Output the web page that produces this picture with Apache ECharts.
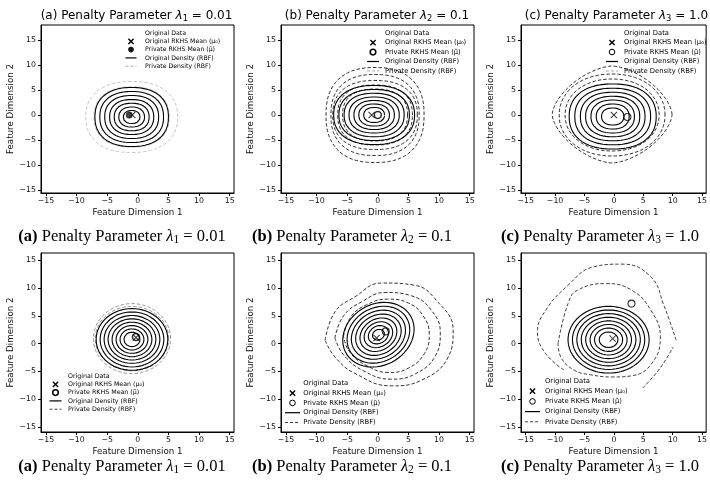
<!DOCTYPE html>
<html>
<head>
<meta charset="utf-8">
<title>RKHS mean privatisation: penalty parameter sweep</title>
<script src="https://cdn.jsdelivr.net/npm/echarts@6/dist/echarts.min.js"></script>
<style>
html, body { margin: 0; padding: 0; background: #fff; }
#chart { width: 710px; height: 481px; }
</style>
</head>
<body>
<div id="chart"></div>
<script>
// ---------- axes ----------
const xTicks = [-15, -10, -5, 0, 5, 10, 15];
const yTicks = [-15, -10, -5, 0, 5, 10, 15];
const xRange = [-15.8, 15.7];
const yRangeTop = [-15.6, 18];
const yRangeBottom = [-15.9, 16.3];

// ---------- panel text ----------
const panelLetters = ['a', 'b', 'c'];
const lambdaIndex = ['1', '2', '3'];
const lambdaValues = ['0.01', '0.1', '1.0'];
const legendLabels = ['Original Data', 'Original RKHS Mean (μ₀)', 'Private RKHS Mean (μ̃)',
                      'Original Density (RBF)', 'Private Density (RBF)'];

// ---------- kernel means ----------
const origMeanTop = [[-0.9, 0], [-1.0, 0], [0, 0]];
const privMeanTop = [[-1.4, 0], [0, 0], [2.3, -0.4]];
const origMeanBottom = [[-0.3, 1.1], [-0.2, 1.0], [-0.2, 0.9]];
const privMeanBottom = [[-0.3, 1.2], [1.3, 2.2], [3.0, 7.2]];

// ---------- density contour levels ----------
// each set: centre, superellipse exponent, tilt in degrees, [rx, ry] per level (outermost first)
const origTopA = { c: [-1.0, -0.4], n: 2.3, tilt: 0,
  r: [[6.0, 5.9], [5.2, 5.1], [4.4, 4.3], [3.6, 3.5], [2.85, 2.75], [2.1, 2.0], [1.35, 1.3]] };
const privTopA = { c: [-1.0, -0.4], n: 2.3, tilt: 0, r: [[7.5, 7.1], [6.15, 6.05]] };

const origTopB = { c: [-0.6, 0], n: 2.3, tilt: 0,
  r: [[6.6, 5.9], [5.75, 5.1], [4.9, 4.35], [4.1, 3.6], [3.3, 2.9], [2.5, 2.2], [1.7, 1.5]] };
const privTopB = { c: [-0.45, 0], n: 2.4, tilt: 0,
  r: [[8.0, 9.5], [7.2, 8.1], [6.9, 6.9], [6.1, 6.0], [5.3, 5.2]] };

const origTopC = { c: [-0.2, -0.3], n: 2.3, tilt: 0,
  r: [[7.4, 6.5], [6.45, 5.65], [5.5, 4.85], [4.6, 4.05], [3.7, 3.3], [2.8, 2.5], [1.9, 1.7]] };
const privTopCOuter = { c: [-0.3, 0.1], n: 1.6, tilt: 0, r: [[10.2, 9.7]] };
const privTopCInner = { c: [-0.3, 0.0], n: 2.1, tilt: 0, r: [[9.0, 8.2], [8.0, 7.2]] };

const origBottomA = { c: [-0.95, 0.75], n: 2.0, tilt: 0,
  r: [[5.85, 5.55], [5.2, 4.95], [4.55, 4.3], [3.9, 3.7], [3.25, 3.1], [2.6, 2.5], [1.95, 1.9], [1.3, 1.3]] };
const privBottomA = { c: [-0.95, 0.9], n: 2.0, tilt: 0, r: [[6.3, 6.3], [6.0, 5.8]] };

const origBottomB = { c: [0.1, 1.6], n: 2.0, tilt: 45,
  r: [[6.3, 5.3], [5.55, 4.65], [4.8, 4.0], [4.05, 3.35], [3.3, 2.7], [2.55, 2.1], [1.8, 1.5], [1.05, 0.9]] };
// irregular private-density contours (data coordinates)
const privBottomBPaths = [
  [[-8.6, 0.6], [-7.0, 5.7], [-3.75, 8.4], [0.6, 10.9], [6.0, 10.5], [9.3, 8.1], [12.3, 2.4], [11.5, -2.4], [7.1, -6.6], [2.2, -7.6], [-3.75, -5.35], [-7.0, -2.4], [-8.6, 0.6]],
  [[-7.0, 1.0], [-5.6, 5.0], [-2.5, 7.6], [1.2, 9.2], [5.5, 8.6], [8.6, 6.2], [10.2, 2.0], [9.4, -2.2], [6.2, -5.4], [2.2, -6.4], [-2.5, -4.8], [-5.6, -2.0], [-7.0, 1.0]],
  [[-5.6, 1.3], [-4.4, 4.8], [-1.8, 7.0], [1.6, 8.0], [5.0, 7.3], [7.4, 5.0], [8.4, 1.6], [7.6, -1.8], [5.0, -4.4], [1.8, -5.2], [-1.9, -3.9], [-4.6, -1.5], [-5.6, 1.3]]
];

const origBottomC = { c: [-0.9, 0.7], n: 2.0, tilt: 0,
  r: [[6.9, 6.0], [6.15, 5.35], [5.4, 4.7], [4.65, 4.05], [3.9, 3.4], [3.15, 2.75], [2.4, 2.1], [1.6, 1.4]] };
const privBottomCPaths = [
  [[10.6, 0.6], [8.5, 6.9], [6.3, 12.0], [1.4, 14.3], [-3.5, 13.8], [-7.8, 10.5], [-11.6, 6.0], [-13.0, 2.1], [-11.6, -1.8], [-8.4, -4.8]],
  [[4.9, -8.0], [7.8, -4.5], [10.1, -0.6]],
  [[-9.5, 0.0], [-7.8, 7.2], [-6.2, 9.6], [-1.3, 10.8], [3.05, 9.6], [6.3, 6.0], [7.9, 1.2], [6.5, -3.5], [3.0, -5.8], [-0.2, -6.0], [-4.0, -5.6], [-6.7, -4.8], [-9.0, -2.5], [-9.5, 0.0]]
];

const privColors = ['#c8c8c8', '#333333', '#333333', '#999999', '#333333', '#444444'];

// ---------- layout (pixels) ----------
const gridLeft = [41, 281, 521];
const gridWidth = 193;
const rowTop = [25, 253];
const rowHeight = [168, 179];

function superellipse(c, r, n, tiltDeg) {
  const pts = [];
  const N = 120;
  const a = tiltDeg * Math.PI / 180;
  const e = 2 / n;
  for (let k = 0; k <= N; k++) {
    const t = 2 * Math.PI * k / N;
    const ct = Math.cos(t), st = Math.sin(t);
    const u = r[0] * Math.sign(ct) * Math.pow(Math.abs(ct), e);
    const v = r[1] * Math.sign(st) * Math.pow(Math.abs(st), e);
    pts.push([c[0] + u * Math.cos(a) - v * Math.sin(a), c[1] + u * Math.sin(a) + v * Math.cos(a)]);
  }
  return pts;
}

const minus = v => String(v).replace('-', '\u2212');
const FONT = 'DejaVu Sans';

const grids = [], xAxes = [], yAxes = [], series = [], titles = [], graphics = [];

for (let i = 0; i < 6; i++) {
  const row = Math.floor(i / 3), col = i % 3;
  grids.push({ left: gridLeft[col], top: rowTop[row], width: gridWidth, height: rowHeight[row],
               show: true, borderColor: '#000', borderWidth: 1, backgroundColor: '#fff' });
  xAxes.push({
    gridIndex: i, type: 'value', min: xRange[0], max: xRange[1],
    splitLine: { show: false },
    axisLine: { show: true, onZero: false, lineStyle: { color: '#000', width: 1 } },
    axisTick: { show: true, customValues: xTicks, length: 3, lineStyle: { color: '#000' } },
    axisLabel: { customValues: xTicks, formatter: minus, fontFamily: FONT, fontSize: 7.8, color: '#111', margin: 4 },
    name: 'Feature Dimension 1', nameLocation: 'middle', nameGap: 15,
    nameTextStyle: { fontFamily: FONT, fontSize: 8.7, color: '#111' }
  });
  const yr = row === 0 ? yRangeTop : yRangeBottom;
  yAxes.push({
    gridIndex: i, type: 'value', min: yr[0], max: yr[1],
    splitLine: { show: false },
    axisLine: { show: true, onZero: false, lineStyle: { color: '#000', width: 1 } },
    axisTick: { show: true, customValues: yTicks, length: 3, lineStyle: { color: '#000' } },
    axisLabel: { customValues: yTicks, formatter: minus, fontFamily: FONT, fontSize: 7.8, color: '#111', margin: 5 },
    name: 'Feature Dimension 2', nameLocation: 'middle', nameGap: 19,
    nameTextStyle: { fontFamily: FONT, fontSize: 8.7, color: '#111' }
  });
}

function addRings(panel, set, dashed) {
  set.r.forEach(r => {
    series.push({
      type: 'line', xAxisIndex: panel, yAxisIndex: panel, silent: true, animation: false,
      showSymbol: false, symbol: 'none', clip: true, z: dashed ? 2 : 3,
      data: superellipse(set.c, r, set.n, set.tilt),
      lineStyle: dashed ? { color: privColors[panel], width: 1, type: [3.5, 2] } : { color: '#000', width: 1.1 }
    });
  });
}
function addPaths(panel, paths) {
  paths.forEach(p => {
    series.push({
      type: 'line', xAxisIndex: panel, yAxisIndex: panel, silent: true, animation: false,
      showSymbol: false, symbol: 'none', clip: true, z: 2, smooth: 0.45,
      data: p, lineStyle: { color: privColors[panel], width: 1, type: [3.5, 2] }
    });
  });
}

addRings(0, privTopA, true);   addRings(0, origTopA, false);
addRings(1, privTopB, true);   addRings(1, origTopB, false);
addRings(2, privTopCOuter, true); addRings(2, privTopCInner, true); addRings(2, origTopC, false);
addRings(3, privBottomA, true); addRings(3, origBottomA, false);
addPaths(4, privBottomBPaths);  addRings(4, origBottomB, false);
addPaths(5, privBottomCPaths);  addRings(5, origBottomC, false);

const CROSS = 'path://M1,0 L5,4 L9,0 L10,1 L6,5 L10,9 L9,10 L5,6 L1,10 L0,9 L4,5 L0,1 Z';
const origMeans = origMeanTop.concat(origMeanBottom);
const privMeans = privMeanTop.concat(privMeanBottom);
for (let i = 0; i < 6; i++) {
  series.push({ type: 'scatter', xAxisIndex: i, yAxisIndex: i, silent: true, animation: false, z: 5,
    data: [origMeans[i]], symbol: CROSS, symbolSize: 7, itemStyle: { color: '#000' } });
  const filled = i === 0;
  series.push({ type: 'scatter', xAxisIndex: i, yAxisIndex: i, silent: true, animation: false, z: 6,
    data: [privMeans[i]], symbol: 'circle', symbolSize: 7,
    itemStyle: filled ? { color: '#111' } : { color: 'rgba(255,255,255,0)', borderColor: '#000', borderWidth: (i === 1 || i === 3) ? 1.6 : 1.1 } });
}

// ---------- titles and captions ----------
const titleRich = {
  t: { fontFamily: FONT, fontWeight: 'normal', fontSize: 12, color: '#000', lineHeight: 14 },
  m: { fontFamily: FONT, fontWeight: 'normal', fontStyle: 'italic', fontSize: 12, color: '#000', lineHeight: 14 },
  s: { fontFamily: FONT, fontWeight: 'normal', fontSize: 8.4, color: '#000', lineHeight: 6, verticalAlign: 'bottom' }
};
const SERIF = 'Liberation Serif';
const capRich = {
  b: { fontFamily: SERIF, fontWeight: 'bold', fontSize: 16.5, color: '#000', lineHeight: 18 },
  t: { fontFamily: SERIF, fontWeight: 'normal', fontSize: 16.5, color: '#000', lineHeight: 18 },
  m: { fontFamily: SERIF, fontWeight: 'normal', fontStyle: 'italic', fontSize: 16.5, color: '#000', lineHeight: 18 },
  s: { fontFamily: SERIF, fontWeight: 'normal', fontSize: 11.5, color: '#000', lineHeight: 8, verticalAlign: 'bottom' }
};
const titleCenters = [136.5, 377, 616.5];
const captionCenters = [122, 352, 600];
for (let col = 0; col < 3; col++) {
  titles.push({
    text: `{t|(${panelLetters[col]}) Penalty Parameter }{m|λ}{s|${lambdaIndex[col]}}{t| = ${lambdaValues[col]}}`,
    left: titleCenters[col], top: 9, textAlign: 'center', padding: 0,
    textStyle: { fontWeight: 'normal', rich: titleRich }
  });
  for (let row = 0; row < 2; row++) {
    titles.push({
      text: `{b|(${panelLetters[col]})}{t| Penalty Parameter }{m|λ}{s|${lambdaIndex[col]}}{t| = ${lambdaValues[col]}}`,
      left: captionCenters[col], top: row === 0 ? 228 : 458, textAlign: 'center', padding: 0,
      textStyle: { fontWeight: 'normal', rich: capRich }
    });
  }
}

// ---------- legends ----------
// each block: marker centre x, text x, first row y, row step, font size, half length of line keys
const legendSpec = [
  { mx: 131, tx: 145, y0: 33, dy: 8.3, fs: 6.2, lineHalf: 5.5 },
  { mx: 373, tx: 385, y0: 33.3, dy: 9.4, fs: 6.7, lineHalf: 6 },
  { mx: 612, tx: 624, y0: 33, dy: 9.5, fs: 6.8, lineHalf: 6 },
  { mx: 55.5, tx: 68, y0: 376, dy: 8.3, fs: 6.3, lineHalf: 6 },
  { mx: 292.5, tx: 303.3, y0: 383.3, dy: 9.8, fs: 6.8, lineHalf: 7.5 },
  { mx: 532.5, tx: 545, y0: 381, dy: 10.2, fs: 6.8, lineHalf: 7.5 }
];
legendSpec.forEach((L, i) => {
  legendLabels.forEach((label, k) => {
    graphics.push({ type: 'text', x: L.tx, y: L.y0 + k * L.dy, z: 20,
      style: { text: label, font: `${L.fs}px "${FONT}"`, fill: '#000', textVerticalAlign: 'middle', verticalAlign: 'middle' } });
  });
  const y1 = L.y0 + L.dy, y2 = L.y0 + 2 * L.dy, y3 = L.y0 + 3 * L.dy, y4 = L.y0 + 4 * L.dy;
  graphics.push({ type: 'polyline', z: 20, shape: { points: [[L.mx - 2.6, y1 - 2.6], [L.mx + 2.6, y1 + 2.6]] }, style: { stroke: '#000', lineWidth: 1.4 } });
  graphics.push({ type: 'polyline', z: 20, shape: { points: [[L.mx - 2.6, y1 + 2.6], [L.mx + 2.6, y1 - 2.6]] }, style: { stroke: '#000', lineWidth: 1.4 } });
  graphics.push({ type: 'circle', z: 20, shape: { cx: L.mx, cy: y2, r: 2.8 },
    style: i === 0 ? { fill: '#111' } : { fill: '#fff', stroke: '#000', lineWidth: (i === 1 || i === 3) ? 1.5 : 1 } });
  graphics.push({ type: 'line', z: 20, shape: { x1: L.mx - L.lineHalf, y1: y3, x2: L.mx + L.lineHalf, y2: y3 }, style: { stroke: '#000', lineWidth: 1.2 } });
  graphics.push({ type: 'line', z: 20, shape: { x1: L.mx - L.lineHalf, y1: y4, x2: L.mx + L.lineHalf, y2: y4 },
    style: { stroke: i < 3 ? '#aaa' : '#444', lineWidth: 1, lineDash: [3, 2] } });
});

const chart = echarts.init(document.getElementById('chart'), null, { renderer: 'canvas' });
chart.setOption({
  animation: false,
  backgroundColor: '#fff',
  title: titles,
  grid: grids,
  xAxis: xAxes,
  yAxis: yAxes,
  series: series,
  graphic: { elements: graphics }
});
</script>
</body>
</html>
